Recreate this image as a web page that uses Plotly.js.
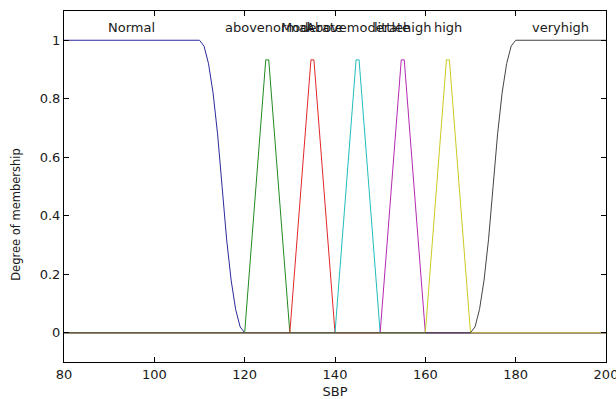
<!DOCTYPE html>
<html>
<head>
<meta charset="utf-8">
<script src="https://cdn.plot.ly/plotly-3.0.1.min.js"></script>
<style>
html,body{margin:0;padding:0;background:#fff;}
#chart{width:616px;height:399px;}
</style>
</head>
<body>
<div id="chart"></div>
<script>
// Membership function names
const mfNames = ["Normal", "abovenormal", "Moderate", "Abovemoderate", "littlehigh", "high", "veryhigh"];
// Label positions (SBP) where each name is written
const labelX = [95, 125, 135, 145, 155, 165, 190];

// Normal (z-shaped, 110 -> 120)
const normalX = [80, 110, 111, 112, 113, 114, 115, 116, 117, 118, 119, 120, 200];
const normalY = [1, 1, 0.98, 0.92, 0.82, 0.68, 0.5, 0.32, 0.18, 0.08, 0.02, 0, 0];
// Triangles (sampled peaks ~0.93)
const aboveNormalX = [80, 120, 124.67, 125.33, 130, 200];
const aboveNormalY = [0, 0, 0.933, 0.933, 0, 0];
const moderateX = [80, 130, 134.67, 135.33, 140, 200];
const moderateY = [0, 0, 0.933, 0.933, 0, 0];
const aboveModerateX = [80, 140, 144.67, 145.33, 150, 200];
const aboveModerateY = [0, 0, 0.933, 0.933, 0, 0];
const littleHighX = [80, 150, 154.67, 155.33, 160, 200];
const littleHighY = [0, 0, 0.933, 0.933, 0, 0];
const highX = [80, 160, 164.67, 165.33, 170, 200];
const highY = [0, 0, 0.933, 0.933, 0, 0];
// veryhigh (s-shaped, 170 -> 180)
const veryHighX = [80, 170, 171, 172, 173, 174, 175, 176, 177, 178, 179, 180, 200];
const veryHighY = [0, 0, 0.02, 0.08, 0.18, 0.32, 0.5, 0.68, 0.82, 0.92, 0.98, 1, 1];

// Axis ticks
const xTicks = [80, 100, 120, 140, 160, 180, 200];
const yTicks = [0, 0.2, 0.4, 0.6, 0.8, 1];
const yTickText = ["0", "0.2", "0.4", "0.6", "0.8", "1"];

const seriesX = [normalX, aboveNormalX, moderateX, aboveModerateX, littleHighX, highX, veryHighX];
const seriesY = [normalY, aboveNormalY, moderateY, aboveModerateY, littleHighY, highY, veryHighY];
const colors = ["#2a2a9c", "#208a20", "#e02828", "#22bcbc", "#b428b4", "#caca22", "#444444"];

const traces = seriesX.map((xs, i) => ({
  x: xs, y: seriesY[i], type: "scatter", mode: "lines", name: mfNames[i],
  line: {color: colors[i], width: 1}, hoverinfo: "skip"
}));

const font = {family: "DejaVu Sans, Arial, sans-serif", size: 13, color: "#1a1a1a"};

const annotations = mfNames.map((n, i) => ({
  x: labelX[i], y: 1.045, xref: "x", yref: "y", text: n, showarrow: false,
  xanchor: "center", yanchor: "middle", font: font
}));
annotations.push({
  x: -0.09, y: 0.42, xref: "paper", yref: "paper", text: "Degree of membership",
  showarrow: false, textangle: -90, xanchor: "center", yanchor: "middle",
  font: {family: "DejaVu Sans, Arial, sans-serif", size: 11.5, color: "#1a1a1a"}
});

const layout = {
  width: 616, height: 399,
  margin: {l: 64, r: 10, t: 11, b: 37, pad: 0},
  paper_bgcolor: "#fff", plot_bgcolor: "#fff",
  showlegend: false,
  font: font,
  xaxis: {
    range: [80, 200], tickvals: xTicks, ticktext: xTicks.map(String),
    ticks: "inside", ticklen: 5, tickcolor: "#000", tickwidth: 1,
    showline: true, linecolor: "#000", linewidth: 1, mirror: "ticks",
    showgrid: false, zeroline: false, fixedrange: true,
    ticklabeloverflow: "allow",
    tickfont: font,
    title: {text: "SBP", font: font, standoff: 6}
  },
  yaxis: {
    range: [-0.1, 1.1], tickvals: yTicks, ticktext: yTickText,
    ticks: "inside", ticklen: 5, tickcolor: "#000", tickwidth: 1,
    showline: true, linecolor: "#000", linewidth: 1, mirror: "ticks",
    showgrid: false, zeroline: false, fixedrange: true,
    tickfont: font
  },
  annotations: annotations
};

Plotly.newPlot("chart", traces, layout, {displayModeBar: false, staticPlot: true});
</script>
</body>
</html>
